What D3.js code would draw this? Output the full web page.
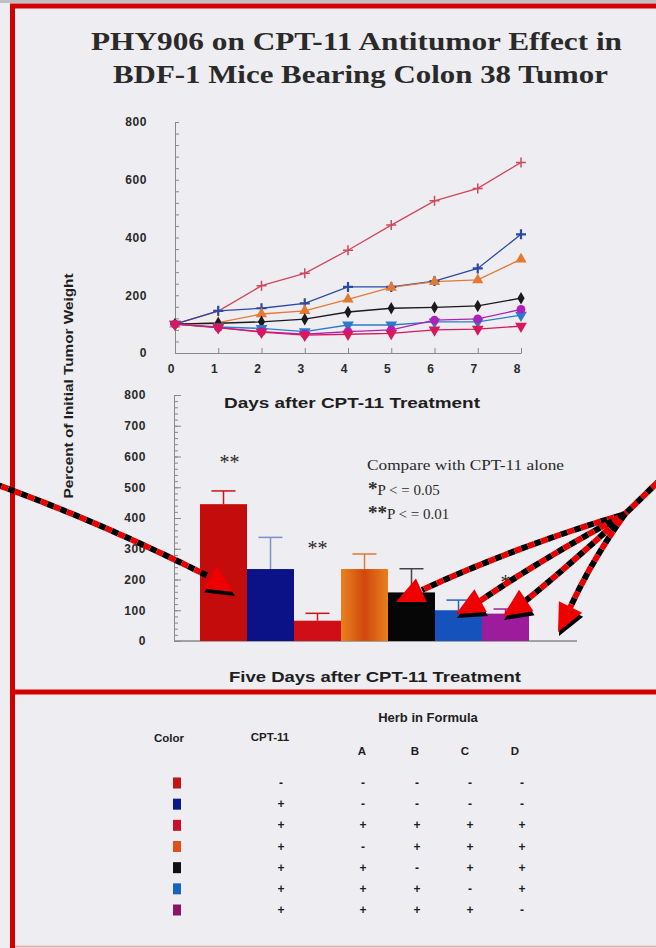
<!DOCTYPE html>
<meta charset="utf-8">
<html>
<head>
<style>
  body { margin: 0; background: #eeedf1; }
  svg { display: block; }
  .tick text { font-family: "Liberation Sans", Arial, sans-serif; font-weight: bold; font-size: 12px; fill: #2a2a2a; letter-spacing: 0.6px; }
  .sans { font-family: "Liberation Sans", Arial, sans-serif; font-weight: bold; fill: #1e1e1e; }
  .serif { font-family: "Liberation Serif", "Times New Roman", serif; fill: #2a2a2a; }
</style>
<script src="https://d3js.org/d3.v7.min.js"></script>
</head>
<body>
<script>

// Days after treatment (line chart x)
var days = [0, 1, 2, 3, 4, 5, 6, 7, 8];

// Percent of initial tumor weight, one array per group
var control  = [100, 145, 233, 276, 356, 443, 527, 570, 660];
var cptAlone = [100, 146, 155, 172, 229, 229, 249, 293, 411];
var noHerbA  = [100, 105, 135, 146, 186, 227, 247, 253, 325];
var noHerbB  = [100, 103, 108, 117, 142, 155, 158, 163, 190];
var noHerbC  = [100,  90,  85,  74,  97,  97, 108, 108, 131];
var noHerbD  = [100,  88,  74,  65,  74,  80, 114, 118, 151];
var fullPHY  = [100,  88,  72,  62,  65,  68,  80,  83,  93];

// Five days after treatment (bar chart), mean and top of error bar
var barGroups = ["Control", "CPT-11", "CPT-11+PHY906", "CPT-11+BCD", "CPT-11+ACD", "CPT-11+ABD", "CPT-11+ABC"];
var barValues = [445, 234, 66, 234, 158, 100, 89];
var barErrTop = [488, 337, 90, 283, 235, 133, 104];
var barStars  = ["**", "", "**", "", "", "", "*"];

// Formula table
var tableCols = ["CPT-11", "A", "B", "C", "D"];
var tableRows = [
    ["-", "-", "-", "-", "-"],
    ["+", "-", "-", "-", "-"],
    ["+", "+", "+", "+", "+"],
    ["+", "-", "+", "+", "+"],
    ["+", "+", "-", "+", "+"],
    ["+", "+", "+", "-", "+"],
    ["+", "+", "+", "+", "-"]
];

var yTicksLine = [0, 200, 400, 600, 800];
var yTicksBar = [0, 100, 200, 300, 400, 500, 600, 700, 800];

// colours
var barColors = ["#c40c0c", "#0b1288", "#cf0e18", "url(#orangeGrad)", "#060606", "#1552bb", "#9c1c9c"];
var errColors = ["#c81414", "#7f90c6", "#c81414", "#e27a34", "#444444", "#2a62c2", "#a020a0"];
var swatchColors = ["#c01418", "#0c1a88", "#c8102c", "#e0501c", "#101010", "#1464c0", "#8c1468"];

var series = [
    {values: control,  color: "#d0485a", marker: "plus"},
    {values: cptAlone, color: "#2c4aa0", marker: "plusBold"},
    {values: noHerbA,  color: "#e27a34", marker: "triUp"},
    {values: noHerbB,  color: "#1a1a1a", marker: "diamond"},
    {values: noHerbC,  color: "#2a7cc8", marker: "triDown"},
    {values: noHerbD,  color: "#b020b8", marker: "circle"},
    {values: fullPHY,  color: "#d8185a", marker: "triDown"}
];

var width = 656, height = 948;

var svg = d3.select("body")
    .append("svg")
    .attr("width", width)
    .attr("height", height);

var defs = svg.append("defs");
var grad = defs.append("linearGradient").attr("id", "orangeGrad");
grad.append("stop").attr("offset", "0%").attr("stop-color", "#e8821e");
grad.append("stop").attr("offset", "50%").attr("stop-color", "#d2480e");
grad.append("stop").attr("offset", "100%").attr("stop-color", "#e8801c");

svg.append("rect").attr("width", width).attr("height", height).attr("fill", "#eeedf1");

// Frame
svg.append("rect").attr("x", 0).attr("y", 0).attr("width", width).attr("height", 3).attr("fill", "#bfbfc3");
svg.append("line").attr("x1", 10).attr("x2", width).attr("y1", 6).attr("y2", 6)
    .attr("stroke", "#d40000").attr("stroke-width", 5);
svg.append("line").attr("x1", 12.5).attr("x2", 12.5).attr("y1", 4).attr("y2", height)
    .attr("stroke", "#d40000").attr("stroke-width", 5);
svg.append("line").attr("x1", 12).attr("x2", width).attr("y1", 692).attr("y2", 692)
    .attr("stroke", "#d40000").attr("stroke-width", 5);
svg.append("line").attr("x1", 15).attr("x2", width).attr("y1", 946.5).attr("y2", 946.5)
    .attr("stroke", "#f0a4a4").attr("stroke-width", 1.5);

// Title
svg.append("text").attr("class", "serif").attr("x", 356.5).attr("y", 50)
    .attr("text-anchor", "middle").attr("font-size", 26).attr("font-weight", "bold").attr("fill", "#111")
    .attr("textLength", 531).attr("lengthAdjust", "spacingAndGlyphs")
    .text("PHY906 on CPT-11 Antitumor Effect in");
svg.append("text").attr("class", "serif").attr("x", 360.5).attr("y", 83)
    .attr("text-anchor", "middle").attr("font-size", 26).attr("font-weight", "bold").attr("fill", "#111")
    .attr("textLength", 495).attr("lengthAdjust", "spacingAndGlyphs")
    .text("BDF-1 Mice Bearing Colon 38 Tumor");

// ---------- Line chart ----------
var x = d3.scaleLinear().domain([0, 8]).range([175, 521]);
var y = d3.scaleLinear().domain([0, 800]).range([353, 122]);

var gx = svg.append("g").attr("transform", "translate(0,353)")
    .call(d3.axisBottom(x).tickValues(days).tickSize(-5).tickSizeOuter(0).tickPadding(11).tickFormat(d3.format("d")));
gx.selectAll(".tick text").attr("dx", -4);

svg.append("g").attr("transform", "translate(175,0)")
    .call(d3.axisLeft(y).tickValues(d3.range(0, 801, 40)).tickSize(-4).tickSizeOuter(0).tickFormat(""));
svg.append("g").attr("transform", "translate(175,0)")
    .call(d3.axisLeft(y).tickValues(yTicksLine).tickSize(0).tickPadding(28));

var line = d3.line()
    .x(function(d, i) { return x(days[i]); })
    .y(function(d) { return y(d); });

svg.append("g").selectAll("path")
    .data(series)
    .enter().append("path")
    .attr("d", function(d) { return line(d.values); })
    .attr("fill", "none")
    .attr("stroke", function(d) { return d.color; })
    .attr("stroke-width", 1.3);

function markerPath(type) {
    if (type == "plus" || type == "plusBold") return "M-5,0H5M0,-5V5";
    if (type == "triUp") return d3.symbol(d3.symbolTriangle, 55)();
    if (type == "triDown") return d3.symbol(d3.symbolTriangle, 60)();
    if (type == "diamond") return d3.symbol(d3.symbolDiamond, 45)();
    return d3.symbol(d3.symbolCircle, 60)();
}

series.forEach(function(s) {
    svg.append("g").selectAll("path")
        .data(s.values)
        .enter().append("path")
        .attr("transform", function(d, i) {
            return "translate(" + x(days[i]) + "," + y(d) + ")" + (s.marker == "triDown" ? " rotate(180)" : "");
        })
        .attr("d", markerPath(s.marker))
        .attr("fill", s.marker.indexOf("plus") == 0 ? "none" : s.color)
        .attr("stroke", s.marker.indexOf("plus") == 0 ? s.color : "none")
        .attr("stroke-width", s.marker == "plusBold" ? 2.2 : 1.5);
});

svg.append("text").attr("class", "sans").attr("x", 352).attr("y", 408)
    .attr("text-anchor", "middle").attr("font-size", 14)
    .attr("textLength", 256).attr("lengthAdjust", "spacingAndGlyphs")
    .text("Days after CPT-11 Treatment");

// Shared y label
svg.append("text").attr("class", "sans")
    .attr("transform", "translate(73,386) rotate(-90)")
    .attr("text-anchor", "middle").attr("font-size", 13)
    .attr("textLength", 225).attr("lengthAdjust", "spacingAndGlyphs")
    .text("Percent of Initial Tumor Weight");

// ---------- Bar chart ----------
var xb = d3.scaleBand().domain(barGroups).range([200, 529]).padding(0);
var yb = d3.scaleLinear().domain([0, 800]).range([641, 395]);

svg.append("g").attr("transform", "translate(174,0)")
    .call(d3.axisLeft(yb).tickValues(d3.range(0, 801, 20)).tickSize(-4).tickSizeOuter(0).tickFormat(""));
svg.append("g").attr("transform", "translate(174,0)")
    .call(d3.axisLeft(yb).tickValues(yTicksBar).tickSize(-7).tickSizeOuter(0).tickFormat(""));
svg.append("g").attr("transform", "translate(174,0)")
    .call(d3.axisLeft(yb).tickValues(yTicksBar).tickSize(0).tickPadding(28))
    .select(".domain").remove();

svg.append("line").attr("x1", 174).attr("x2", 577).attr("y1", yb(0)).attr("y2", yb(0))
    .attr("stroke", "#888").attr("stroke-width", 1.5);

svg.selectAll(".domain").attr("stroke", "#888");
svg.selectAll(".tick line").attr("stroke", "#888");

// error bars
var eb = svg.append("g").selectAll("g")
    .data(barGroups)
    .enter().append("g");
eb.append("line")
    .attr("x1", function(d) { return xb(d) + xb.bandwidth() / 2; })
    .attr("x2", function(d) { return xb(d) + xb.bandwidth() / 2; })
    .attr("y1", function(d, i) { return yb(barValues[i]); })
    .attr("y2", function(d, i) { return yb(barErrTop[i]); })
    .attr("stroke", function(d, i) { return errColors[i]; })
    .attr("stroke-width", 1.5);
eb.append("line")
    .attr("x1", function(d) { return xb(d) + xb.bandwidth() / 2 - 12; })
    .attr("x2", function(d) { return xb(d) + xb.bandwidth() / 2 + 12; })
    .attr("y1", function(d, i) { return yb(barErrTop[i]); })
    .attr("y2", function(d, i) { return yb(barErrTop[i]); })
    .attr("stroke", function(d, i) { return errColors[i]; })
    .attr("stroke-width", 1.5);

svg.append("g").selectAll("rect")
    .data(barGroups)
    .enter().append("rect")
    .attr("x", function(d) { return xb(d); })
    .attr("width", xb.bandwidth())
    .attr("y", function(d, i) { return yb(barValues[i]); })
    .attr("height", function(d, i) { return yb(0) - yb(barValues[i]); })
    .attr("fill", function(d, i) { return barColors[i]; });

// significance stars (sit well above the error bars)
var starLift = [22, 0, 58, 0, 0, 0, 20];
svg.append("g").selectAll("text")
    .data(barGroups)
    .enter().append("text")
    .attr("class", "serif")
    .attr("x", function(d, i) { return xb(d) + xb.bandwidth() / 2 + (i == 0 ? 6 : 0); })
    .attr("y", function(d, i) { return yb(barErrTop[i]) - starLift[i]; })
    .attr("text-anchor", "middle")
    .attr("font-size", 20)
    .attr("fill", "#444")
    .text(function(d, i) { return barStars[i]; });

// legend for stars
svg.append("text").attr("class", "serif").attr("x", 367).attr("y", 470)
    .attr("font-size", 15).attr("textLength", 197).attr("lengthAdjust", "spacingAndGlyphs")
    .text("Compare with CPT-11 alone");
var s1 = svg.append("text").attr("class", "serif").attr("x", 368).attr("y", 495).attr("font-size", 15);
s1.append("tspan").attr("font-size", 19).attr("font-weight", "bold").text("*");
s1.append("tspan").text("P < = 0.05");
var s2 = svg.append("text").attr("class", "serif").attr("x", 368).attr("y", 519).attr("font-size", 15);
s2.append("tspan").attr("font-size", 19).attr("font-weight", "bold").text("**");
s2.append("tspan").text("P < = 0.01");

svg.append("text").attr("class", "sans").attr("x", 375).attr("y", 682)
    .attr("text-anchor", "middle").attr("font-size", 15)
    .attr("textLength", 292).attr("lengthAdjust", "spacingAndGlyphs")
    .text("Five Days after CPT-11 Treatment");

// ---------- Pointer arrows (red / black dotted) ----------
var arrows = [
    {d: "M-5,484 Q100,522 208,576", from: [208, 576], tip: [234, 592]},
    {d: "M662,478 L625,514 Q520,545 422,590", from: [422, 590], tip: [396, 602]},
    {d: "M625,514 Q540,560 480,601", from: [480, 601], tip: [456, 614]},
    {d: "M625,514 Q570,565 524,602", from: [524, 602], tip: [503, 616]},
    {d: "M625,514 Q592,560 570,608", from: [570, 608], tip: [558, 632]}
];

arrows.forEach(function(a) {
    svg.append("path").attr("d", a.d).attr("fill", "none")
        .attr("stroke", "#000").attr("stroke-width", 6).attr("stroke-dasharray", "7,7");
    svg.append("path").attr("d", a.d).attr("fill", "none")
        .attr("stroke", "#e80000").attr("stroke-width", 6).attr("stroke-dasharray", "7,7").attr("stroke-dashoffset", 7);
});

arrows.forEach(function(a) {
    var dx = a.tip[0] - a.from[0], dy = a.tip[1] - a.from[1];
    var len = Math.sqrt(dx * dx + dy * dy);
    var ux = dx / len, uy = dy / len;
    var L = 28, W = 13;
    var bx = a.tip[0] - ux * L, by = a.tip[1] - uy * L;
    var pts = [a.tip, [bx - uy * W, by + ux * W], [bx + uy * W, by - ux * W]];
    svg.append("polygon").attr("points", pts.map(function(p) { return (p[0] + 1) + "," + (p[1] + 4); }).join(" "))
        .attr("fill", "#000");
    svg.append("polygon").attr("points", pts.map(function(p) { return p[0] + "," + p[1]; }).join(" "))
        .attr("fill", "#ee0000");
});

// ---------- Formula table ----------
var headX = {"CPT-11": 270, "A": 362, "B": 415, "C": 465, "D": 515};
var symX  = {"CPT-11": 281, "A": 363, "B": 417, "C": 470, "D": 522};
var rowY = d3.scalePoint().domain(d3.range(tableRows.length)).range([783, 910]);

svg.append("text").attr("class", "sans").attr("x", 428).attr("y", 722)
    .attr("text-anchor", "middle").attr("font-size", 13).text("Herb in Formula");
svg.append("text").attr("class", "sans").attr("x", 169).attr("y", 742)
    .attr("text-anchor", "middle").attr("font-size", 11.5).text("Color");

svg.append("g").selectAll("text")
    .data(tableCols)
    .enter().append("text")
    .attr("class", "sans")
    .attr("x", function(d) { return headX[d]; })
    .attr("y", function(d, i) { return i == 0 ? 741 : 755; })
    .attr("text-anchor", "middle")
    .attr("font-size", 11.5)
    .text(function(d) { return d; });

svg.append("g").selectAll("rect")
    .data(swatchColors)
    .enter().append("rect")
    .attr("x", 173)
    .attr("y", function(d, i) { return rowY(i) - 5.5; })
    .attr("width", 8)
    .attr("height", 11)
    .attr("fill", function(d) { return d; });

tableRows.forEach(function(row, i) {
    svg.append("g").selectAll("text")
        .data(row)
        .enter().append("text")
        .attr("class", "sans")
        .attr("x", function(d, j) { return symX[tableCols[j]]; })
        .attr("y", rowY(i) + 4)
        .attr("text-anchor", "middle")
        .attr("font-size", 12)
        .attr("fill", "#333")
        .text(function(d) { return d; });
});

</script>
</body>
</html>
